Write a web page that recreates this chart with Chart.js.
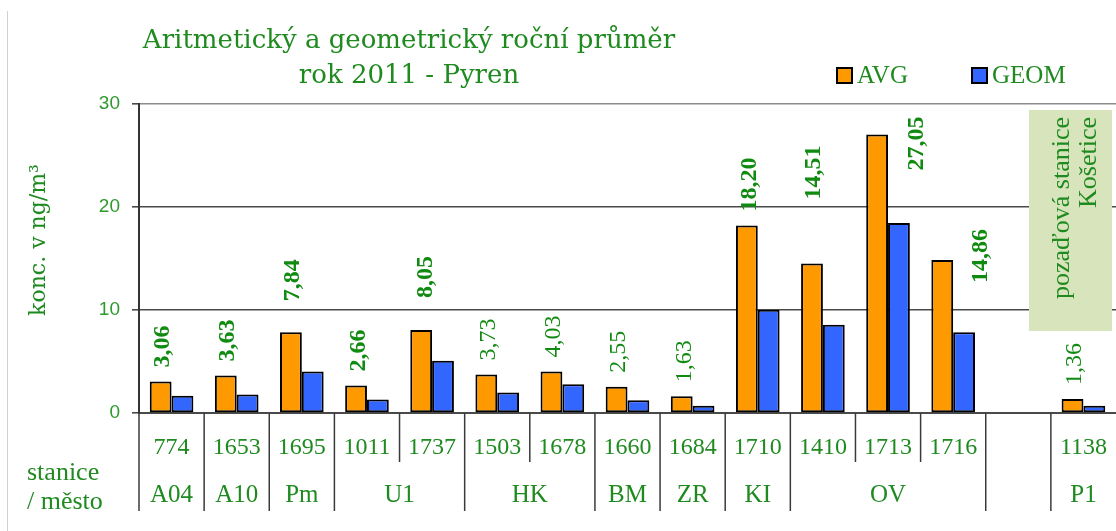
<!DOCTYPE html>
<html>
<head>
<meta charset="utf-8">
<script src="https://cdn.jsdelivr.net/npm/chart.js@4.4.1/dist/chart.umd.min.js"></script>
<style>
  html, body { margin: 0; padding: 0; background: #ffffff; }
  #wrap { width: 1116px; height: 531px; position: relative; }
</style>
</head>
<body>
<div id="wrap"><canvas id="c" width="1116" height="531"></canvas></div>
<script>
// ---- data ----
const categories = ['774','1653','1695','1011','1737','1503','1678','1660','1684','1710','1410','1713','1716','','1138'];
const avgValues  = [3.06, 3.63, 7.84, 2.66, 8.05, 3.73, 4.03, 2.55, 1.63, 18.20, 14.51, 27.05, 14.86, null, 1.36];
const geomValues = [1.68, 1.80, 4.04, 1.30, 5.08, 2.00, 2.80, 1.25, 0.70, 10.03, 8.57, 18.45, 7.83, null, 0.70];
const groupNames = ['A04','A10','Pm','U1','HK','BM','ZR','KI','OV','','P1'];
const groupSizes = [1, 1, 1, 2, 2, 1, 1, 1, 3, 1, 1];
const yTicks = [0, 10, 20, 30];
const seriesNames = ['AVG', 'GEOM'];
const titleLines = ['Aritmetický a geometrický roční průměr', 'rok 2011 - Pyren'];
const yTitle = 'konc. v ng/m³';
const rowTitles = ['stanice', '/ město'];
const noteLines = ['pozaďová stanice', 'Košetice'];

// ---- styling ----
const GREEN = '#1f8a1f';
const LABEL_GREEN = '#118a11';
const SERIF = '"Liberation Serif", "DejaVu Serif", serif';
const WIDE_SERIF = '"DejaVu Serif", "Liberation Serif", serif';
const SANS = '"Liberation Sans", Arial, sans-serif';
// label placement tweaks (pixels, relative to AVG bar top/centre) and weight
const labelNudge = {
  default: { dx: 1.5, dy: -14 },
  2: { dx: 1, dy: -31 }, 4: { dx: 4, dy: -32 }, 10: { dx: 1, dy: -64 },
  11: { dx: 39, dy: 36 }, 12: { dx: 38, dy: 23 }
};
const regularLabels = new Set([5, 6, 7, 8, 14]);

const annot = {
  id: 'annot',
  beforeDraw(chart) {
    const ctx = chart.ctx;
    ctx.save();
    ctx.fillStyle = '#ffffff';
    ctx.fillRect(0, 0, chart.width, chart.height);
    ctx.strokeStyle = '#d0d0d0';
    ctx.lineWidth = 1;
    ctx.beginPath(); ctx.moveTo(7.5, 11); ctx.lineTo(7.5, chart.height); ctx.stroke();
    ctx.restore();
  },
  afterDatasetsDraw(chart) {
    const ctx = chart.ctx;
    const xs = chart.scales.x;
    const area = chart.chartArea;
    const step = xs.getPixelForValue(1) - xs.getPixelForValue(0);
    ctx.save();

    // Title
    ctx.fillStyle = GREEN;
    ctx.textAlign = 'center';
    ctx.textBaseline = 'alphabetic';
    ctx.font = '26px ' + WIDE_SERIF;
    ctx.fillText(titleLines[0], 409, 48);
    ctx.fillText(titleLines[1], 409, 83);

    // Legend
    const ds = chart.data.datasets;
    const legendX = [837, 972];
    ctx.font = '25px ' + SERIF;
    ctx.textAlign = 'left';
    ds.forEach((d, i) => {
      ctx.fillStyle = d.backgroundColor;
      ctx.fillRect(legendX[i], 68, 15, 15);
      ctx.strokeStyle = '#000';
      ctx.lineWidth = 2;
      ctx.strokeRect(legendX[i], 68, 15, 15);
      ctx.fillStyle = GREEN;
      ctx.fillText(d.label, legendX[i] + 20, 83);
    });

    // Y axis title
    ctx.save();
    ctx.translate(45, 240);
    ctx.rotate(-Math.PI / 2);
    ctx.textAlign = 'center';
    ctx.font = '22px ' + WIDE_SERIF;
    ctx.fillStyle = GREEN;
    ctx.fillText(yTitle, 0, 0);
    ctx.restore();

    // Background-station note box
    ctx.fillStyle = '#d8e4bc';
    ctx.fillRect(1029, 110, 83, 221);
    ctx.fillStyle = GREEN;
    ctx.font = '26px ' + SERIF;
    [1069, 1096].forEach((bx, i) => {
      ctx.save();
      ctx.translate(bx, 117);
      ctx.rotate(-Math.PI / 2);
      ctx.textAlign = 'right';
      ctx.fillText(noteLines[i], 0, 0);
      ctx.restore();
    });

    // Data labels for AVG
    const meta = chart.getDatasetMeta(0);
    avgValues.forEach((v, i) => {
      if (v == null) return;
      const bar = meta.data[i];
      const n = labelNudge[i] || labelNudge.default;
      const txt = v.toFixed(2).replace('.', ',');
      ctx.save();
      ctx.translate(bar.x + n.dx, bar.y + n.dy);
      ctx.rotate(-Math.PI / 2);
      ctx.textAlign = 'left';
      ctx.textBaseline = 'middle';
      ctx.font = (regularLabels.has(i) ? '' : 'bold ') + '24px ' + SERIF;
      ctx.fillStyle = LABEL_GREEN;
      ctx.fillText(txt, 0, 1);
      ctx.restore();
    });

    // Table under the axis
    const y0 = area.bottom;
    ctx.strokeStyle = '#3a3a3a';
    ctx.lineWidth = 1.5;
    const drawSep = (x, full) => {
      ctx.beginPath();
      ctx.moveTo(x, y0);
      ctx.lineTo(x, full ? 511 : 462);
      ctx.stroke();
    };
    drawSep(xs.getPixelForValue(0) - step / 2, true);
    let idx = 0;
    groupSizes.forEach((sz, g) => {
      for (let k = 0; k < sz; k++) {
        const c = idx + k;
        const right = xs.getPixelForValue(c) + step / 2;
        if (c < categories.length - 1) drawSep(right, k === sz - 1);
      }
      const cx = (xs.getPixelForValue(idx) + xs.getPixelForValue(idx + sz - 1)) / 2;
      ctx.fillStyle = GREEN;
      ctx.font = '25px ' + SERIF;
      ctx.textAlign = 'center';
      ctx.textBaseline = 'alphabetic';
      ctx.fillText(groupNames[g], cx, 502);
      idx += sz;
    });
    categories.forEach((c, i) => {
      ctx.fillStyle = GREEN;
      ctx.font = '24px ' + SERIF;
      ctx.textAlign = 'center';
      ctx.fillText(c, xs.getPixelForValue(i), 454);
    });
    ctx.textAlign = 'left';
    ctx.font = '26px ' + SERIF;
    ctx.fillText(rowTitles[0], 27, 480);
    ctx.fillText(rowTitles[1], 27, 509);

    ctx.restore();
  }
};

new Chart(document.getElementById('c'), {
  type: 'bar',
  data: {
    labels: categories,
    datasets: [
      { label: seriesNames[0], data: avgValues, backgroundColor: '#ff9900', borderColor: '#000000', borderWidth: 2, borderSkipped: false },
      { label: seriesNames[1], data: geomValues, backgroundColor: '#3366ff', borderColor: '#000000', borderWidth: 2, borderSkipped: false }
    ]
  },
  options: {
    responsive: false,
    animation: false,
    devicePixelRatio: 1,
    layout: { padding: { left: 0, right: 0, top: 104, bottom: 0 } },
    datasets: { bar: { categoryPercentage: 0.67, barPercentage: 1.0 } },
    plugins: { legend: { display: false }, title: { display: false }, tooltip: { enabled: false } },
    scales: {
      x: {
        ticks: { display: false },
        grid: { display: false },
        border: { display: true, color: '#4a4a4a', width: 2 },
        afterFit(axis) { axis.height = 118; }
      },
      y: {
        min: yTicks[0], max: yTicks[yTicks.length - 1],
        afterBuildTicks(axis) { axis.ticks = yTicks.map(v => ({ value: v })); },
        ticks: { color: '#2e9a2e', font: { family: SANS, size: 19 }, padding: 12 },
        grid: {
          color: ctx => ctx.tick && ctx.tick.value === 30 ? '#8c8c8c' : '#4a4a4a',
          lineWidth: 1.6,
          tickLength: 7,
          tickColor: '#4a4a4a'
        },
        border: { display: true, color: '#333333', width: 2 },
        afterFit(axis) { axis.width = 139; }
      }
    }
  },
  plugins: [annot]
});
</script>
</body>
</html>
